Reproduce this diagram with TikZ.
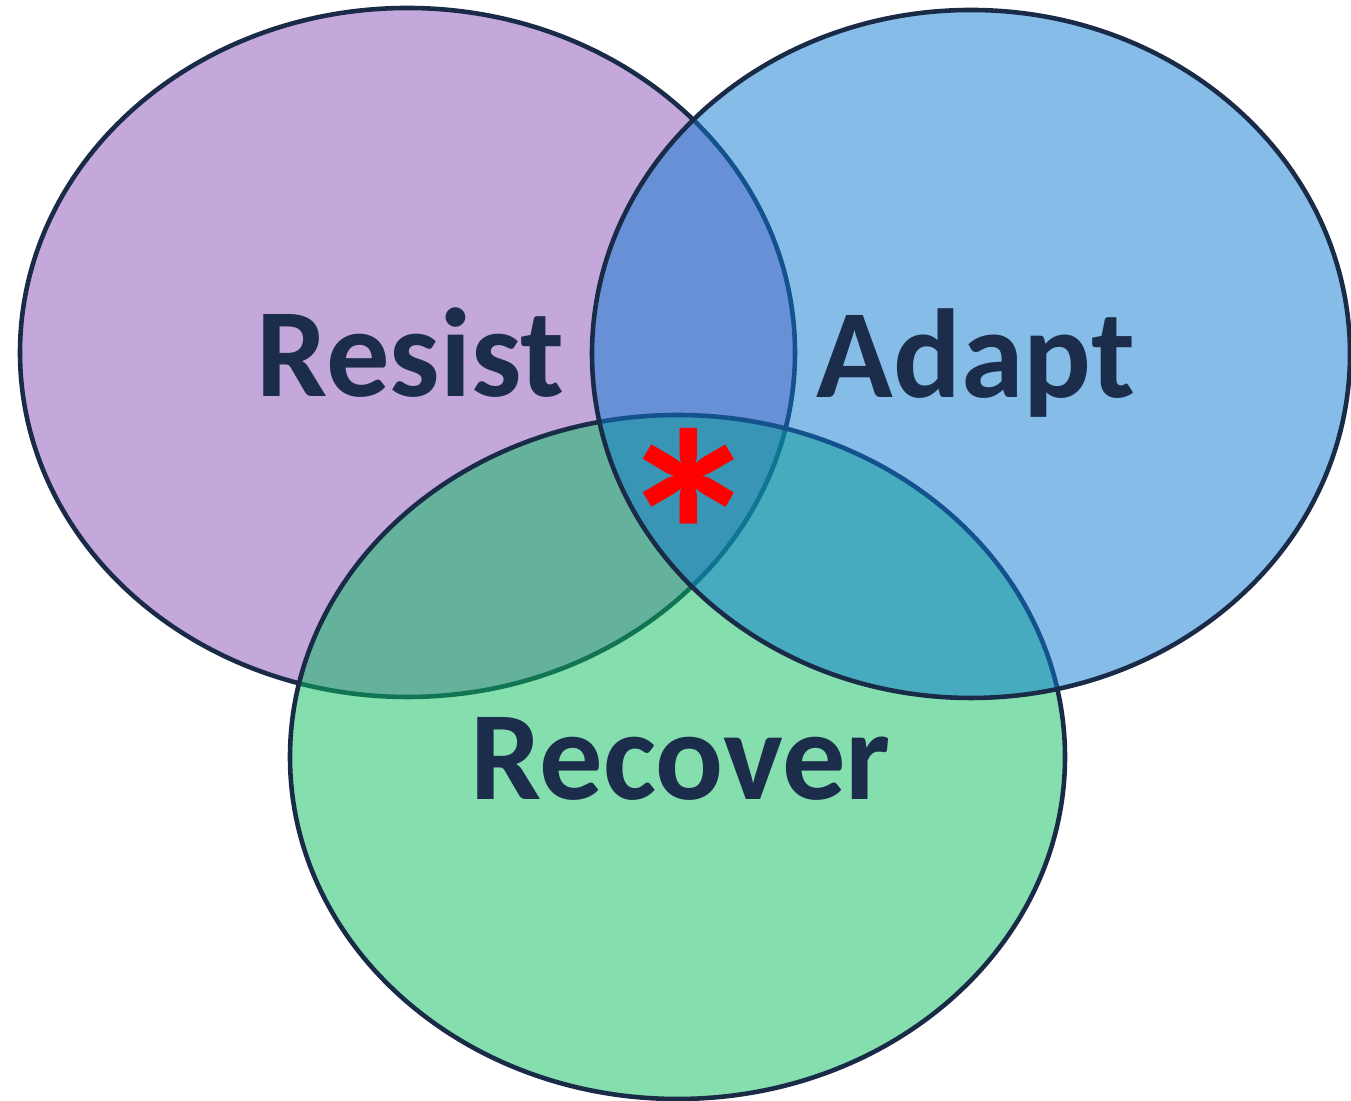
\documentclass[tikz,border=0pt]{standalone}
\usepackage{fontspec}
\setmainfont{Carlito}
\usepackage{tikz}
\usetikzlibrary{shapes,positioning}
\usepackage{xcolor}
\definecolor{vnpurple}{RGB}{137,81,185}
\definecolor{vnblue}{RGB}{13,121,209}
\definecolor{vngreen}{RGB}{9,189,93}
\definecolor{vnnavy}{RGB}{26,43,72}
\definecolor{vntext}{RGB}{27,45,75}
\tikzstyle{venn} = [ellipse, draw=vnnavy, line width=1.3pt, fill opacity=0.5, inner sep=0pt]
\tikzstyle{setname} = [font=\fontsize{36}{43}\selectfont\bfseries, text=vntext, anchor=base]

\begin{document}
\begin{tikzpicture}
\useasboundingbox (0,0) rectangle (13.51,11.01);
% Sets, bottom layer first
\node (resist) [venn, fill=vnpurple, minimum width=7.75cm, minimum height=6.89cm] at (4.075,7.485) {};
\node (recover) [venn, fill=vngreen, minimum width=7.75cm, minimum height=6.84cm] at (6.775,3.44) {};
\node (adapt) [venn, fill=vnblue, minimum width=7.58cm, minimum height=6.88cm] at (9.71,7.47) {};

% Names
\node (resisttxt) [setname] at ([xshift=0.03cm,yshift=-0.445cm]resist.center) {Resist};
\node (adapttxt) [setname] at ([xshift=0.05cm,yshift=-0.44cm]adapt.center) {Adapt};
\node (recovertxt) [setname] at ([xshift=0.03cm,yshift=-0.43cm]recover.center) {Recover};

% Common core
\node (core) [font=\fontsize{84}{96}\selectfont\bfseries, text=red, anchor=base] at (6.89,4.61) {*};
\end{tikzpicture}
\end{document}
